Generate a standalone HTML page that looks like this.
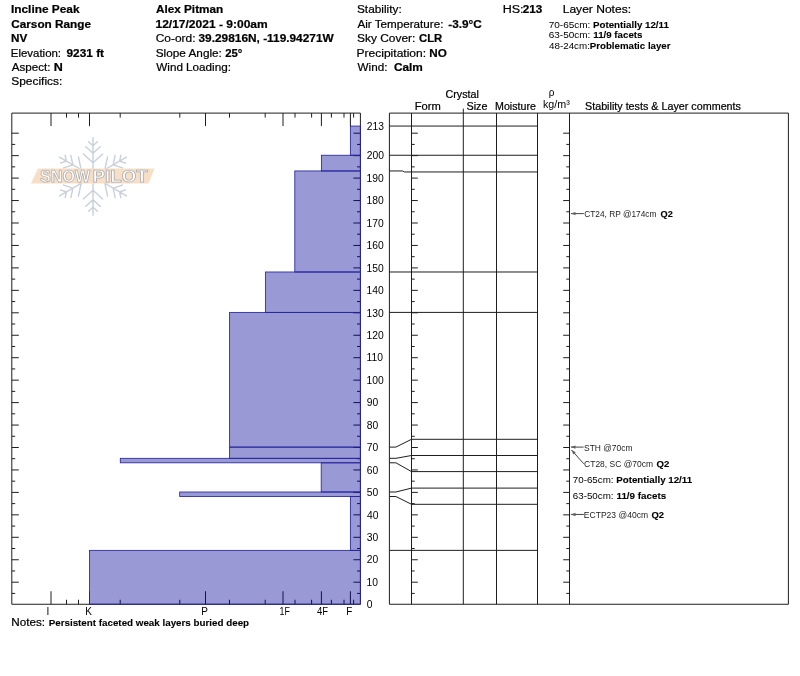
<!DOCTYPE html>
<html lang="en"><head><meta charset="utf-8"><title>Snow Pilot - Incline Peak</title>
<style>html,body{margin:0;padding:0;background:#fff}body{width:800px;height:676px;overflow:hidden}svg{display:block}text{font-family:"Liberation Sans", Arial, sans-serif;fill:#000;stroke:#000;stroke-width:0.22px}.b{font-weight:bold}.s{stroke:none;fill:#1c1c1c}.n{stroke:none}.m{stroke-width:0.1px}</style>
</head><body>
<svg width="800" height="676" viewBox="0 0 800 676">
<rect width="800" height="676" fill="#fff"/>
<g id="logo">
<path d="M93.00 176.50L93.00 137.80M93.00 162.80L102.66 154.10M93.00 162.80L83.34 154.10M93.00 153.30L100.28 146.74M93.00 153.30L85.72 146.74M93.00 145.80L97.46 141.79M93.00 145.80L88.54 141.79M93.00 176.50L59.48 157.15M81.14 169.65L78.43 156.93M81.14 169.65L68.77 173.67M72.91 164.90L70.87 155.31M72.91 164.90L63.59 167.93M66.41 161.15L65.17 155.28M66.41 161.15L60.71 163.00M93.00 176.50L59.48 195.85M81.14 183.35L68.77 179.33M81.14 183.35L78.43 196.07M72.91 188.10L63.59 185.07M72.91 188.10L70.87 197.69M66.41 191.85L60.71 190.00M66.41 191.85L65.17 197.72M93.00 176.50L93.00 215.20M93.00 190.20L83.34 198.90M93.00 190.20L102.66 198.90M93.00 199.70L85.72 206.26M93.00 199.70L100.28 206.26M93.00 207.20L88.54 211.21M93.00 207.20L97.46 211.21M93.00 176.50L126.52 195.85M104.86 183.35L107.57 196.07M104.86 183.35L117.23 179.33M113.09 188.10L115.13 197.69M113.09 188.10L122.41 185.07M119.59 191.85L120.83 197.72M119.59 191.85L125.29 190.00M93.00 176.50L126.52 157.15M104.86 169.65L117.23 173.67M104.86 169.65L107.57 156.93M113.09 164.90L122.41 167.93M113.09 164.90L115.13 155.31M119.59 161.15L125.29 163.00M119.59 161.15L120.83 155.28" fill="none" stroke="#c8d0da" stroke-width="1.4" stroke-linecap="round"/>
<polygon points="38,168.5 154.5,168.5 148.5,183.6 31,183.6" fill="#f6dfc6"/>
<text x="40.0" y="182.3" font-size="16" font-weight="bold" textLength="50.2" lengthAdjust="spacingAndGlyphs" style="fill:#fff;stroke:#adadad;stroke-width:0.75">SNOW</text>
<text x="92.6" y="182.3" font-size="16" font-weight="bold" textLength="55.0" lengthAdjust="spacingAndGlyphs" style="fill:#fff;stroke:#adadad;stroke-width:0.75">PILOT</text>
</g>
<g stroke="#1e1e1e" stroke-width="1" fill="none">
<path d="M11.80 113.10H360.40V604.25H11.80Z"/>
<path d="M51.00 113.10v13M51.00 604.25v-13M89.50 113.10v13M89.50 604.25v-13M205.50 113.10v13M205.50 604.25v-13M283.00 113.10v13M283.00 604.25v-13M321.40 113.10v13M321.40 604.25v-13M350.40 113.10v13M350.40 604.25v-13M66.50 113.10v4.5M66.50 604.25v-4.5M78.50 113.10v4.5M78.50 604.25v-4.5M120.20 113.10v4.5M120.20 604.25v-4.5M179.80 113.10v4.5M179.80 604.25v-4.5M229.50 113.10v4.5M229.50 604.25v-4.5M265.20 113.10v4.5M265.20 604.25v-4.5M295.00 113.10v4.5M295.00 604.25v-4.5M311.60 113.10v4.5M311.60 604.25v-4.5M331.40 113.10v4.5M331.40 604.25v-4.5M344.00 113.10v4.5M344.00 604.25v-4.5M353.60 113.10v4.5M353.60 604.25v-4.5M11.80 593.42h3.40M360.40 593.42h-3.40M11.80 582.20h7.00M360.40 582.20h-7.00M11.80 570.98h3.40M360.40 570.98h-3.40M11.80 559.75h7.00M360.40 559.75h-7.00M11.80 548.52h3.40M360.40 548.52h-3.40M11.80 537.30h7.00M360.40 537.30h-7.00M11.80 526.07h3.40M360.40 526.07h-3.40M11.80 514.85h7.00M360.40 514.85h-7.00M11.80 503.62h3.40M360.40 503.62h-3.40M11.80 492.40h7.00M360.40 492.40h-7.00M11.80 481.17h3.40M360.40 481.17h-3.40M11.80 469.95h7.00M360.40 469.95h-7.00M11.80 458.72h3.40M360.40 458.72h-3.40M11.80 447.50h7.00M360.40 447.50h-7.00M11.80 436.27h3.40M360.40 436.27h-3.40M11.80 425.05h7.00M360.40 425.05h-7.00M11.80 413.82h3.40M360.40 413.82h-3.40M11.80 402.60h7.00M360.40 402.60h-7.00M11.80 391.38h3.40M360.40 391.38h-3.40M11.80 380.15h7.00M360.40 380.15h-7.00M11.80 368.92h3.40M360.40 368.92h-3.40M11.80 357.70h7.00M360.40 357.70h-7.00M11.80 346.47h3.40M360.40 346.47h-3.40M11.80 335.25h7.00M360.40 335.25h-7.00M11.80 324.02h3.40M360.40 324.02h-3.40M11.80 312.80h7.00M360.40 312.80h-7.00M11.80 301.57h3.40M360.40 301.57h-3.40M11.80 290.35h7.00M360.40 290.35h-7.00M11.80 279.12h3.40M360.40 279.12h-3.40M11.80 267.90h7.00M360.40 267.90h-7.00M11.80 256.67h3.40M360.40 256.67h-3.40M11.80 245.45h7.00M360.40 245.45h-7.00M11.80 234.22h3.40M360.40 234.22h-3.40M11.80 223.00h7.00M360.40 223.00h-7.00M11.80 211.78h3.40M360.40 211.78h-3.40M11.80 200.55h7.00M360.40 200.55h-7.00M11.80 189.32h3.40M360.40 189.32h-3.40M11.80 178.10h7.00M360.40 178.10h-7.00M11.80 166.87h3.40M360.40 166.87h-3.40M11.80 155.65h7.00M360.40 155.65h-7.00M11.80 144.42h3.40M360.40 144.42h-3.40M11.80 133.20h7.00M360.40 133.20h-7.00"/>
</g>
<g fill="rgba(0,0,153,0.40)" stroke="#26269c" stroke-width="0.85">
<rect x="350.40" y="126.06" width="10.00" height="29.19"/>
<rect x="321.40" y="155.25" width="39.00" height="15.71"/>
<rect x="294.80" y="170.96" width="65.60" height="101.03"/>
<rect x="265.40" y="271.99" width="95.00" height="40.41"/>
<rect x="229.60" y="312.40" width="130.80" height="134.70"/>
<rect x="229.60" y="447.10" width="130.80" height="11.22"/>
<rect x="120.30" y="458.32" width="240.10" height="4.49"/>
<rect x="321.20" y="462.81" width="39.20" height="29.19"/>
<rect x="179.70" y="492.00" width="180.70" height="4.49"/>
<rect x="350.40" y="496.49" width="10.00" height="53.88"/>
<rect x="89.50" y="550.37" width="270.90" height="53.88"/>
</g>
<g stroke="#1e1e1e" stroke-width="1" fill="none">
<path d="M389.40 113.10H788.40V604.25H389.40ZM411.50 113.10V604.25M463.30 108.60V604.25M496.50 113.10V604.25M537.50 113.10V604.25M569.50 113.10V604.25M389.40 126.06H537.50M389.40 155.25H537.50M389.40 170.96H402.6L404.4 171.96H537.50M389.40 271.99H537.50M389.40 312.40H537.50M389.40 447.10H395.90L411.50 439.30H537.50M389.40 458.32H395.90L411.50 455.50H537.50M389.40 462.81H395.90L411.50 471.60H537.50M389.40 492.00H395.90L411.50 488.10H537.50M389.40 496.49H395.90L411.50 504.30H537.50M389.40 550.37H537.50M411.50 593.42h3.20M569.50 593.42h-3.20M411.50 582.20h6.30M569.50 582.20h-6.30M411.50 570.98h3.20M569.50 570.98h-3.20M411.50 559.75h6.30M569.50 559.75h-6.30M411.50 548.52h3.20M569.50 548.52h-3.20M411.50 537.30h6.30M569.50 537.30h-6.30M411.50 526.07h3.20M569.50 526.07h-3.20M411.50 514.85h6.30M569.50 514.85h-6.30M411.50 503.62h3.20M569.50 503.62h-3.20M411.50 492.40h6.30M569.50 492.40h-6.30M411.50 481.17h3.20M569.50 481.17h-3.20M411.50 469.95h6.30M569.50 469.95h-6.30M411.50 458.72h3.20M569.50 458.72h-3.20M411.50 447.50h6.30M569.50 447.50h-6.30M411.50 436.27h3.20M569.50 436.27h-3.20M411.50 425.05h6.30M569.50 425.05h-6.30M411.50 413.82h3.20M569.50 413.82h-3.20M411.50 402.60h6.30M569.50 402.60h-6.30M411.50 391.38h3.20M569.50 391.38h-3.20M411.50 380.15h6.30M569.50 380.15h-6.30M411.50 368.92h3.20M569.50 368.92h-3.20M411.50 357.70h6.30M569.50 357.70h-6.30M411.50 346.47h3.20M569.50 346.47h-3.20M411.50 335.25h6.30M569.50 335.25h-6.30M411.50 324.02h3.20M569.50 324.02h-3.20M411.50 312.80h6.30M569.50 312.80h-6.30M411.50 301.57h3.20M569.50 301.57h-3.20M411.50 290.35h6.30M569.50 290.35h-6.30M411.50 279.12h3.20M569.50 279.12h-3.20M411.50 267.90h6.30M569.50 267.90h-6.30M411.50 256.67h3.20M569.50 256.67h-3.20M411.50 245.45h6.30M569.50 245.45h-6.30M411.50 234.22h3.20M569.50 234.22h-3.20M411.50 223.00h6.30M569.50 223.00h-6.30M411.50 211.78h3.20M569.50 211.78h-3.20M411.50 200.55h6.30M569.50 200.55h-6.30M411.50 189.32h3.20M569.50 189.32h-3.20M411.50 178.10h6.30M569.50 178.10h-6.30M411.50 166.87h3.20M569.50 166.87h-3.20M411.50 155.65h6.30M569.50 155.65h-6.30M411.50 144.42h3.20M569.50 144.42h-3.20M411.50 133.20h6.30M569.50 133.20h-6.30"/>
</g>
<path d="M583.80 213.62L570.90 213.62" fill="none" stroke="#3a3a3a" stroke-width="0.95"/>
<path d="M570.90 213.62L575.50 211.92L575.50 215.32Z" fill="#606060" stroke="none"/>
<path d="M583.60 447.10L570.90 447.10" fill="none" stroke="#3a3a3a" stroke-width="0.95"/>
<path d="M570.90 447.10L575.50 445.40L575.50 448.80Z" fill="#606060" stroke="none"/>
<path d="M583.80 463.80L571.50 450.00" fill="none" stroke="#3a3a3a" stroke-width="0.95"/>
<path d="M571.50 450.00L575.83 452.30L573.29 454.57Z" fill="#606060" stroke="none"/>
<path d="M583.80 514.45L570.90 514.45" fill="none" stroke="#3a3a3a" stroke-width="0.95"/>
<path d="M570.90 514.45L575.50 512.75L575.50 516.15Z" fill="#606060" stroke="none"/>
<text x="10.99" y="13.40" font-size="11.7" class="b" textLength="68.59" lengthAdjust="spacingAndGlyphs">Incline Peak</text>
<text x="11.25" y="27.80" font-size="11.7" class="b" textLength="79.74" lengthAdjust="spacingAndGlyphs">Carson Range</text>
<text x="11.00" y="42.30" font-size="11.7" class="b" textLength="16.25" lengthAdjust="spacingAndGlyphs">NV</text>
<text x="10.77" y="56.50" font-size="11.7" textLength="50.29" lengthAdjust="spacingAndGlyphs">Elevation:</text>
<text x="66.49" y="56.50" font-size="11.7" class="b" textLength="37.55" lengthAdjust="spacingAndGlyphs">9231 ft</text>
<text x="11.75" y="71.00" font-size="11.7" textLength="38.73" lengthAdjust="spacingAndGlyphs">Aspect:</text>
<text x="53.70" y="71.00" font-size="11.7" class="b" textLength="9.06" lengthAdjust="spacingAndGlyphs">N</text>
<text x="11.24" y="85.30" font-size="11.7" textLength="51.05" lengthAdjust="spacingAndGlyphs">Specifics:</text>
<text x="156.00" y="13.40" font-size="11.7" class="b" textLength="67.16" lengthAdjust="spacingAndGlyphs">Alex Pitman</text>
<text x="155.48" y="27.80" font-size="11.7" class="b" textLength="112.21" lengthAdjust="spacingAndGlyphs">12/17/2021 - 9:00am</text>
<text x="155.74" y="42.30" font-size="11.7" textLength="39.76" lengthAdjust="spacingAndGlyphs">Co-ord:</text>
<text x="198.50" y="42.30" font-size="11.7" class="b" textLength="135.22" lengthAdjust="spacingAndGlyphs">39.29816N, -119.94271W</text>
<text x="155.75" y="56.50" font-size="11.7" textLength="66.15" lengthAdjust="spacingAndGlyphs">Slope Angle:</text>
<text x="225.26" y="56.50" font-size="11.7" class="b" textLength="17.16" lengthAdjust="spacingAndGlyphs">25°</text>
<text x="156.25" y="71.00" font-size="11.7" textLength="74.73" lengthAdjust="spacingAndGlyphs">Wind Loading:</text>
<text x="356.99" y="13.40" font-size="11.7" textLength="44.69" lengthAdjust="spacingAndGlyphs">Stability:</text>
<text x="357.50" y="27.80" font-size="11.7" textLength="85.93" lengthAdjust="spacingAndGlyphs">Air Temperature:</text>
<text x="448.25" y="27.80" font-size="11.7" class="b" textLength="33.52" lengthAdjust="spacingAndGlyphs">-3.9°C</text>
<text x="356.99" y="42.30" font-size="11.7" textLength="58.44" lengthAdjust="spacingAndGlyphs">Sky Cover:</text>
<text x="419.02" y="42.30" font-size="11.7" class="b" textLength="23.26" lengthAdjust="spacingAndGlyphs">CLR</text>
<text x="356.47" y="56.50" font-size="11.7" textLength="69.64" lengthAdjust="spacingAndGlyphs">Precipitation:</text>
<text x="429.25" y="56.50" font-size="11.7" class="b" textLength="17.53" lengthAdjust="spacingAndGlyphs">NO</text>
<text x="357.50" y="71.00" font-size="11.7" textLength="29.89" lengthAdjust="spacingAndGlyphs">Wind:</text>
<text x="394.00" y="71.00" font-size="11.7" class="b" textLength="28.86" lengthAdjust="spacingAndGlyphs">Calm</text>
<text x="502.68" y="13.40" font-size="11.7" textLength="20.88" lengthAdjust="spacingAndGlyphs">HS:</text>
<text x="522.75" y="13.40" font-size="11.7" class="b" textLength="19.52" lengthAdjust="spacingAndGlyphs">213</text>
<text x="562.72" y="13.40" font-size="11.7" textLength="68.33" lengthAdjust="spacingAndGlyphs">Layer Notes:</text>
<text x="548.73" y="27.50" font-size="9.7" class="n" textLength="41.69" lengthAdjust="spacingAndGlyphs">70-65cm:</text>
<text x="592.99" y="27.50" font-size="9.7" class="b m" textLength="75.90" lengthAdjust="spacingAndGlyphs">Potentially 12/11</text>
<text x="548.73" y="38.00" font-size="9.7" class="n" textLength="41.69" lengthAdjust="spacingAndGlyphs">63-50cm:</text>
<text x="593.25" y="38.00" font-size="9.7" class="b m" textLength="49.27" lengthAdjust="spacingAndGlyphs">11/9 facets</text>
<text x="549.00" y="48.50" font-size="9.7" class="n" textLength="40.91" lengthAdjust="spacingAndGlyphs">48-24cm:</text>
<text x="589.75" y="48.50" font-size="9.7" class="b m" textLength="80.78" lengthAdjust="spacingAndGlyphs">Problematic layer</text>
<text x="445.50" y="98.00" font-size="10.8" textLength="33.33" lengthAdjust="spacingAndGlyphs">Crystal</text>
<text x="414.67" y="110.00" font-size="10.8" textLength="26.06" lengthAdjust="spacingAndGlyphs">Form</text>
<text x="466.50" y="110.00" font-size="10.8" textLength="21.02" lengthAdjust="spacingAndGlyphs">Size</text>
<text x="495.01" y="110.00" font-size="10.8" textLength="40.89" lengthAdjust="spacingAndGlyphs">Moisture</text>
<text x="548.75" y="96.20" font-size="10" class="n">ρ</text>
<text x="542.93" y="108.00" font-size="10.4" class="n" textLength="26.82" lengthAdjust="spacingAndGlyphs">kg/m³</text>
<text x="585.00" y="110.00" font-size="10.8" textLength="155.97" lengthAdjust="spacingAndGlyphs">Stability tests &amp; Layer comments</text>
<text x="46.60" y="615.30" font-size="10" class="n">I</text>
<text x="85.35" y="615.30" font-size="10" class="n">K</text>
<text x="201.25" y="615.30" font-size="10" class="n">P</text>
<text x="279.54" y="615.30" font-size="10" class="n" textLength="10.34" lengthAdjust="spacingAndGlyphs">1F</text>
<text x="317.01" y="615.30" font-size="10" class="n" textLength="11.14" lengthAdjust="spacingAndGlyphs">4F</text>
<text x="346.25" y="615.30" font-size="10" class="n">F</text>
<text x="366.80" y="608.35" font-size="10.3" class="n">0</text>
<text x="366.55" y="585.90" font-size="10.3" class="n">10</text>
<text x="366.80" y="563.45" font-size="10.3" class="n">20</text>
<text x="366.80" y="541.00" font-size="10.3" class="n">30</text>
<text x="367.05" y="518.55" font-size="10.3" class="n">40</text>
<text x="366.80" y="496.10" font-size="10.3" class="n">50</text>
<text x="366.80" y="473.65" font-size="10.3" class="n">60</text>
<text x="366.80" y="451.20" font-size="10.3" class="n">70</text>
<text x="366.80" y="428.75" font-size="10.3" class="n">80</text>
<text x="366.80" y="406.30" font-size="10.3" class="n">90</text>
<text x="366.55" y="383.85" font-size="10.3" class="n">100</text>
<text x="366.55" y="361.40" font-size="10.3" class="n">110</text>
<text x="366.55" y="338.95" font-size="10.3" class="n">120</text>
<text x="366.55" y="316.50" font-size="10.3" class="n">130</text>
<text x="366.55" y="294.05" font-size="10.3" class="n">140</text>
<text x="366.55" y="271.60" font-size="10.3" class="n">150</text>
<text x="366.55" y="249.15" font-size="10.3" class="n">160</text>
<text x="366.55" y="226.70" font-size="10.3" class="n">170</text>
<text x="366.55" y="204.25" font-size="10.3" class="n">180</text>
<text x="366.55" y="181.80" font-size="10.3" class="n">190</text>
<text x="366.80" y="159.35" font-size="10.3" class="n">200</text>
<text x="366.80" y="130.16" font-size="10.3" class="n">213</text>
<text x="11.24" y="626.00" font-size="11" textLength="33.77" lengthAdjust="spacingAndGlyphs">Notes:</text>
<text x="48.66" y="626.00" font-size="9.9" class="b m" textLength="200.42" lengthAdjust="spacingAndGlyphs">Persistent faceted weak layers buried deep</text>
<text x="584.23" y="217.22" font-size="8.8" class="s" textLength="72.25" lengthAdjust="spacingAndGlyphs">CT24, RP @174cm</text>
<text x="660.52" y="217.22" font-size="9.6" class="b m" textLength="12.28" lengthAdjust="spacingAndGlyphs">Q2</text>
<text x="584.12" y="450.70" font-size="8.8" class="s" textLength="48.34" lengthAdjust="spacingAndGlyphs">STH @70cm</text>
<text x="584.12" y="466.90" font-size="8.8" class="s" textLength="68.88" lengthAdjust="spacingAndGlyphs">CT28, SC @70cm</text>
<text x="656.50" y="466.90" font-size="9.6" class="b m" textLength="12.81" lengthAdjust="spacingAndGlyphs">Q2</text>
<text x="572.80" y="482.60" font-size="9.7" class="n" textLength="40.70" lengthAdjust="spacingAndGlyphs">70-65cm:</text>
<text x="616.24" y="482.60" font-size="9.7" class="b m" textLength="75.90" lengthAdjust="spacingAndGlyphs">Potentially 12/11</text>
<text x="572.80" y="498.50" font-size="9.7" class="n" textLength="40.70" lengthAdjust="spacingAndGlyphs">63-50cm:</text>
<text x="616.49" y="498.50" font-size="9.7" class="b m" textLength="49.63" lengthAdjust="spacingAndGlyphs">11/9 facets</text>
<text x="583.87" y="518.05" font-size="8.8" class="s" textLength="64.15" lengthAdjust="spacingAndGlyphs">ECTP23 @40cm</text>
<text x="651.51" y="518.05" font-size="9.6" class="b m" textLength="12.60" lengthAdjust="spacingAndGlyphs">Q2</text>
</svg>
</body></html>
